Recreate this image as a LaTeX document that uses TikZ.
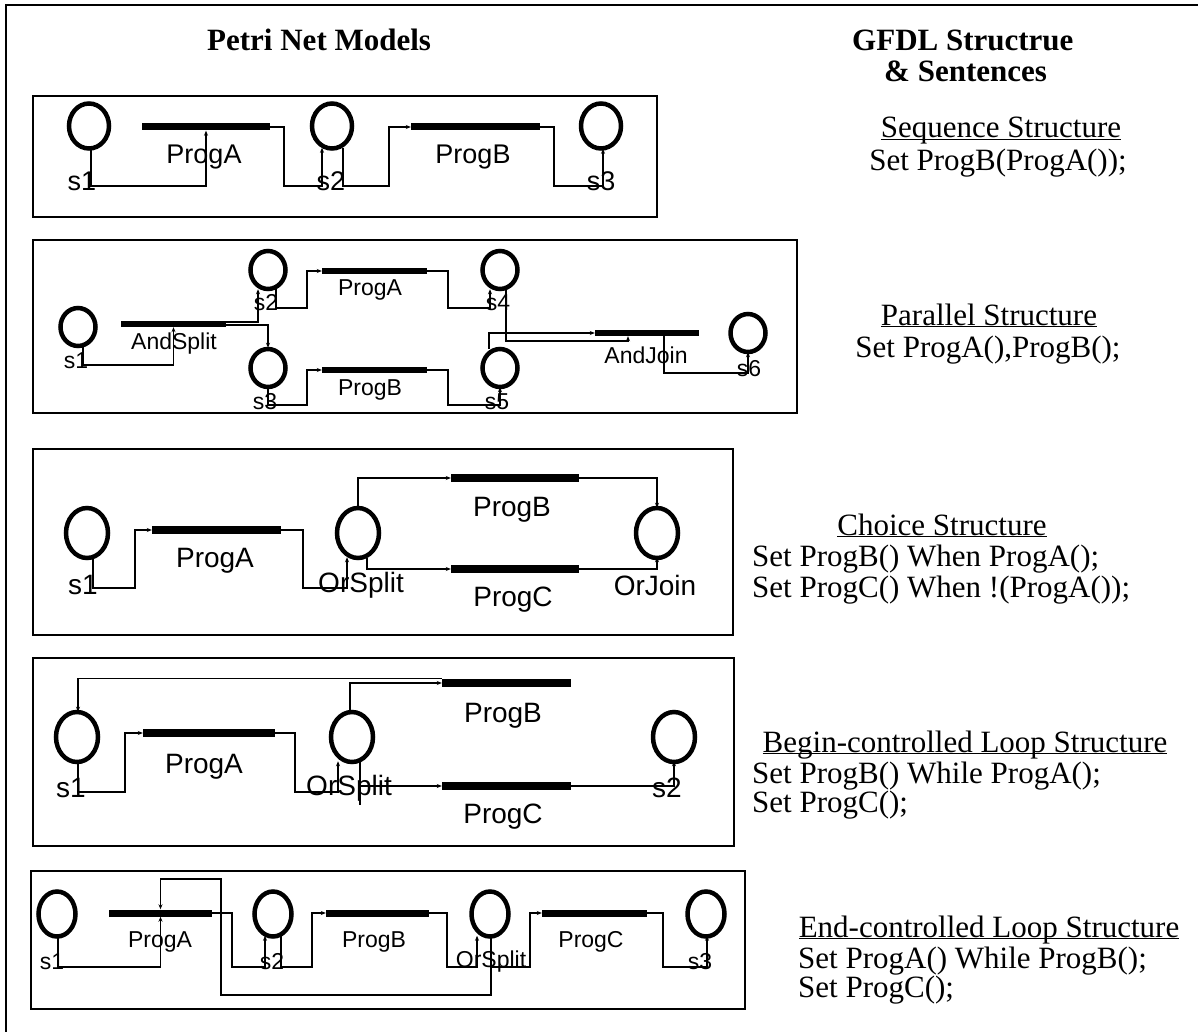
\documentclass[tikz,border=0pt]{standalone}
\usepackage{fontspec}
\setmainfont{Liberation Serif}
\setsansfont{Liberation Sans}
\usetikzlibrary{shapes.geometric,arrows.meta}

% underline set close to the baseline
\newcommand\headline[1]{\underline{\smash{#1}}}

\tikzset{
  pnplace/.style 2 args={ellipse, draw, line width=4.5pt, inner sep=0pt,
    minimum width=#1, minimum height=#2},
  trans/.style 2 args={rectangle, fill=black, inner sep=0pt,
    minimum width=#1, minimum height=#2},
  wire/.style={line width=1.1pt},
  flow/.style={line width=1.1pt, -{Stealth[length=5pt,width=4pt]}},
  panel/.style={draw, line width=1.6pt},
  plab/.style={font=\sffamily\fontsize{#1}{#1}\selectfont, inner sep=0pt},
  gtext/.style={font=\fontsize{31}{34}\selectfont, inner sep=0pt, anchor=base},
  gleft/.style={gtext, anchor=base west},
  gtitle/.style={gtext, font=\bfseries\fontsize{31}{34}\selectfont},
}

\begin{document}
\begin{tikzpicture}[x=1pt, y=-1pt]
\useasboundingbox (0,0) rectangle (1198,1032);
% outer frame
\draw[line width=1.8pt] (6,1032) -- (6,5) -- (1198,5);

% headings
\node[gtitle, anchor=base west] (h1) at (207,51) {Petri Net Models};
\node[gtitle, anchor=base west] (h2) at (852,51) {GFDL Structrue};
\node[gtitle, anchor=base west] (h3) at (884,82) {\& Sentences};

% ---------------- sequence ----------------
\draw[panel] (33,96) rectangle (657,217);
\node[pnplace={40pt}{45pt}] (a1) at (89,126) {};
\node[pnplace={40pt}{45pt}] (a2) at (332,126) {};
\node[pnplace={40pt}{45pt}] (a3) at (601,126) {};
\node[trans={128pt}{7pt}] (aA) at (206,127) {};
\node[trans={129pt}{7pt}] (aB) at (475.5,127) {};
\node[plab=27] (la1) at (82,181) {s1};
\node[plab=27] (laA) at (204,157) {ProgA};
\node[plab=27] (la2) at (331,181) {s2};
\node[plab=27] (laB) at (473,157) {ProgB};
\node[plab=27] (la3) at (601,181) {s3};
\draw[flow] ([xshift=2pt,yshift=2pt]a1.south) -- ([xshift=2pt]a1.south |- 0,186) -| (aA.south);
\draw[flow] (aA.east) -| (284,186) -| ([xshift=-10pt,yshift=3pt]a2.south);
\draw[flow] ([xshift=11pt,yshift=3pt]a2.south) -- ([xshift=11pt]a2.south |- 0,186) -| (389,127) -- (aB.west);
\draw[flow] (aB.east) -| (554,186) -| ([xshift=2pt,yshift=2pt]a3.south);
\node[gtext] (ta1) at (1001,138) {\headline{Sequence Structure}};
\node[gtext] (ta2) at (998,171) {Set ProgB(ProgA());};

% ---------------- parallel ----------------
\draw[panel] (33,240) rectangle (797,413);
\node[pnplace={35pt}{38pt}] (b1) at (78,327) {};
\node[pnplace={35pt}{38pt}] (b2) at (268,270) {};
\node[pnplace={35pt}{38pt}] (b3) at (268,368) {};
\node[pnplace={35pt}{38pt}] (b4) at (500,270) {};
\node[pnplace={35pt}{38pt}] (b5) at (500,368) {};
\node[pnplace={35pt}{38pt}] (b6) at (748,333) {};
\node[trans={105pt}{6pt}] (bS) at (173.5,324) {};
\node[trans={105pt}{6pt}] (bA) at (374.5,271) {};
\node[trans={105pt}{6pt}] (bB) at (374.5,370) {};
\node[trans={104pt}{6pt}] (bJ) at (647,333) {};
\node[plab=23] (lb1) at (76,361) {s1};
\node[plab=23] (lbS) at (174,344) {AndSplit};
\node[plab=23] (lb2) at (266,303) {s2};
\node[plab=23] (lbA) at (370,290) {ProgA};
\node[plab=23] (lb4) at (498,303) {s4};
\node[plab=23] (lbJ) at (646,355) {AndJoin};
\node[plab=23] (lb6) at (749,369) {s6};
\node[plab=23] (lb3) at (265,402) {s3};
\node[plab=23] (lbB) at (370,390) {ProgB};
\node[plab=23] (lb5) at (497,402) {s5};
\draw[flow] ([xshift=5pt,yshift=2pt]b1.south) -- ([xshift=5pt]b1.south |- 0,365) -| (bS.south);
\draw[flow] ([yshift=2pt]bS.east) -| ([xshift=-10pt,yshift=2pt]b2.south);
\draw[flow] ([yshift=-1pt]bS.east) -| ([yshift=-1pt]b3.north);
\draw[flow] ([xshift=8pt,yshift=2pt]b2.south) -- ([xshift=8pt]b2.south |- 0,308) -| (307,271) -- (bA.west);
\draw[flow] (bA.east) -| (448,308) -| ([xshift=-10pt,yshift=2pt]b4.south);
\draw[flow] ([xshift=6pt,yshift=2pt]b4.south) -- ([xshift=6pt]b4.south |- 0,341) -| ([xshift=-19pt]bJ.south);
\draw[flow] ([xshift=-11pt,yshift=-2pt]b5.north) |- (bJ.west);
\draw[flow] ([xshift=17pt]bJ.south) -- ([xshift=17pt]bJ.south |- 0,373) -| ([yshift=2pt]b6.south);
\draw[flow] ([yshift=2pt]b3.south) -- (b3.south |- 0,405) -| (307,370) -- (bB.west);
\draw[flow] (bB.east) -| (448,405) -| ([yshift=2pt]b5.south);
\node[gtext] (tb1) at (989,325) {\headline{Parallel Structure}};
\node[gtext] (tb2) at (988,357) {Set ProgA(),ProgB();};

% ---------------- choice ----------------
\draw[panel] (33,449) rectangle (733,635);
\node[pnplace={42pt}{50pt}] (c1) at (87,533) {};
\node[pnplace={42pt}{50pt}] (cO) at (358,533) {};
\node[pnplace={42pt}{50pt}] (cJ) at (657,533) {};
\node[trans={129pt}{8pt}] (cA) at (216.5,530) {};
\node[trans={128pt}{8pt}] (cB) at (515,478) {};
\node[trans={128pt}{8pt}] (cC) at (515,569) {};
\node[plab=28] (lc1) at (83,585) {s1};
\node[plab=28] (lcA) at (215,561) {ProgA};
\node[plab=28] (lcO) at (361,585) {OrSplit};
\node[plab=28] (lcB) at (512,510) {ProgB};
\node[plab=28] (lcC) at (513,600) {ProgC};
\node[plab=28] (lcJ) at (655,585) {OrJoin};
\draw[flow] ([xshift=6pt,yshift=2pt]c1.south) -- ([xshift=6pt]c1.south |- 0,588) -| (135,530) -- (cA.west);
\draw[flow] (cA.east) -| (303,588) -| ([xshift=-11pt,yshift=3pt]cO.south);
\draw[flow] ([yshift=-2pt]cO.north) |- (cB.west);
\draw[flow] ([xshift=9pt,yshift=2pt]cO.south) |- (cC.west);
\draw[flow] (cB.east) -| ([yshift=-2pt]cJ.north);
\draw[flow] (cC.east) -| ([yshift=3pt]cJ.south);
\node[gtext] (tc1) at (942,535) {\headline{Choice Structure}};
\node[gleft] (tc2) at (752,566) {Set ProgB() When ProgA();};
\node[gleft] (tc3) at (752,597) {Set ProgC() When !(ProgA());};

% ---------------- begin-controlled loop ----------------
\draw[panel] (33,658) rectangle (734,846);
\node[pnplace={42pt}{50pt}] (d1) at (77,737) {};
\node[pnplace={42pt}{50pt}] (dO) at (352,737) {};
\node[pnplace={42pt}{50pt}] (d2) at (674,737) {};
\node[trans={132pt}{8pt}] (dA) at (209,733) {};
\node[trans={129pt}{8pt}] (dB) at (506.5,683) {};
\node[trans={129pt}{8pt}] (dC) at (506.5,786) {};
\node[plab=28] (ld1) at (71,788) {s1};
\node[plab=28] (ldA) at (204,767) {ProgA};
\node[plab=28] (ldO) at (349,788) {OrSplit};
\node[plab=28] (ldB) at (503,716) {ProgB};
\node[plab=28] (ldC) at (503,817) {ProgC};
\node[plab=28] (ld2) at (667,788) {s2};
\draw[flow] (dB.north west) -| ([xshift=1pt,yshift=-2pt]d1.north);
\draw[flow] ([xshift=-2pt,yshift=-2pt]dO.north) |- (dB.west);
\draw[flow] ([xshift=1pt,yshift=2pt]d1.south) -- ([xshift=1pt]d1.south |- 0,792) -| (125,733) -- (dA.west);
\draw[flow] (dA.east) -| (295,792) -| ([xshift=-14pt,yshift=3pt]dO.south);
\draw[wire] ([xshift=8pt,yshift=2pt]dO.south) -- ([xshift=8pt]dO.south |- 0,805);
\draw[flow] ([xshift=8pt]dO.south |- dC.west) -- (dC.west);
\draw[flow] (dC.east) -| ([yshift=3pt]d2.south);
\node[gtext] (td1) at (965,752) {\headline{Begin-controlled Loop Structure}};
\node[gleft] (td2) at (752,783) {Set ProgB() While ProgA();};
\node[gleft] (td3) at (752,812) {Set ProgC();};

% ---------------- end-controlled loop ----------------
\draw[panel] (31,871) rectangle (745,1009);
\node[pnplace={37pt}{45pt}] (e1) at (57,914) {};
\node[pnplace={37pt}{45pt}] (e2) at (273,914) {};
\node[pnplace={37pt}{45pt}] (eO) at (490,914) {};
\node[pnplace={37pt}{45pt}] (e3) at (706,914) {};
\node[trans={103pt}{7pt}] (eA) at (160.5,913) {};
\node[trans={103pt}{7pt}] (eB) at (377.5,913) {};
\node[trans={105pt}{7pt}] (eC) at (594.5,913) {};
\node[plab=23] (le1) at (52,962) {s1};
\node[plab=23] (leA) at (160,942) {ProgA};
\node[plab=23] (le2) at (272,962) {s2};
\node[plab=23] (leB) at (374,942) {ProgB};
\node[plab=23] (leO) at (491,962) {OrSplit};
\node[plab=23] (leC) at (591,942) {ProgC};
\node[plab=23] (le3) at (700,962) {s3};
\draw[flow] ([xshift=1pt,yshift=2pt]e1.south) -- ([xshift=1pt]e1.south |- 0,967) -| (eA.south);
\draw[flow] ([xshift=1pt,yshift=2pt]eO.south) -- ([xshift=1pt]eO.south |- 0,995) -| (221,879) -| (eA.north);
\draw[flow] ([xshift=1pt]eO.south |- 0,967) -| (530,913) -- (eC.west);
\draw[flow] (eA.east) -| (232,967) -| ([xshift=-8pt,yshift=3pt]e2.south);
\draw[flow] ([xshift=8pt,yshift=3pt]e2.south) -- ([xshift=8pt]e2.south |- 0,967) -| (312,913) -- (eB.west);
\draw[flow] (eB.east) -| (447,967) -| ([xshift=-13pt,yshift=3pt]eO.south);
\draw[flow] (eC.east) -| (663,967) -| ([xshift=1pt,yshift=3pt]e3.south);
\node[gtext] (te1) at (989,937) {\headline{End-controlled Loop Structure}};
\node[gleft] (te2) at (798,968) {Set ProgA() While ProgB();};
\node[gleft] (te3) at (798,997) {Set ProgC();};
\end{tikzpicture}
\end{document}
